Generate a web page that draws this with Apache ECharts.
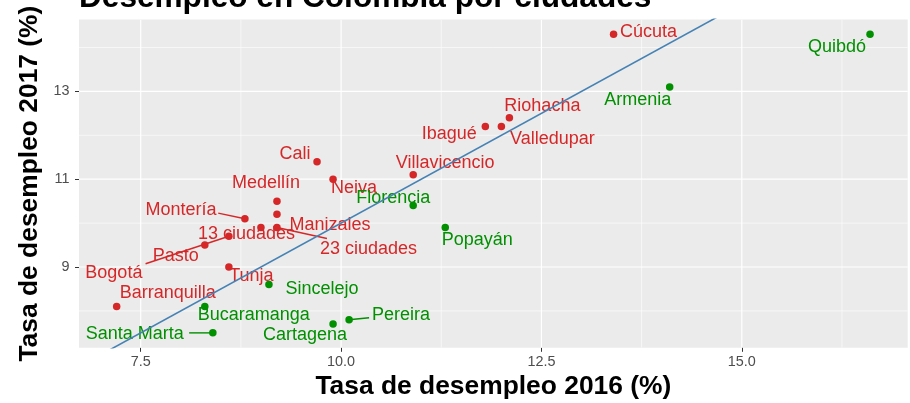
<!DOCTYPE html>
<html><head><meta charset="utf-8">
<script src="https://cdn.jsdelivr.net/npm/echarts@6/dist/echarts.min.js"></script>
<style>html,body{margin:0;padding:0;background:#fff}#c{width:910px;height:403px}</style>
</head><body><div id="c"></div>
<script>
// ---- data ----
const cities = ['Cúcuta','Quibdó','Armenia','Riohacha','Valledupar','Ibagué','Cali','Neiva','Villavicencio','Florencia','Popayán','Medellín','Manizales','Montería','13 ciudades','23 ciudades','Bogotá','Pasto','Tunja','Barranquilla','Sincelejo','Bucaramanga','Santa Marta','Cartagena','Pereira'];
const unemp2016 = [13.4,16.6,14.1,12.1,12.0,11.8,9.7,9.9,10.9,10.9,11.3,9.2,9.2,8.8,9.0,9.2,8.6,8.3,8.6,7.2,9.1,8.3,8.4,9.9,10.1];
const unemp2017 = [14.3,14.3,13.1,12.4,12.2,12.2,11.4,11.0,11.1,10.4,9.9,10.5,10.2,10.1,9.9,9.9,9.7,9.5,9.0,8.1,8.6,8.1,7.5,7.7,7.8];
const xTicks = [7.5,10,12.5,15];
const xMinor = [8.75,11.25,13.75,16.25];
const yTicks = [9,11,13];
const yMinor = [8,10,12,14];
const refLine = [6,16]; // y = x reference line ends

// ---- layout / style (not data) ----
const RED = '#d62728', GREEN = '#009000';
const FONT = '"Liberation Sans", Arial, sans-serif';
// label centre offset from the dot (px) and optional leader segment end (px)
const labelPlacement = {
  'Cúcuta':[35,-2], 'Quibdó':[-33,13], 'Armenia':[-32,13], 'Riohacha':[33,-12],
  'Valledupar':[51,13], 'Ibagué':[-36,8], 'Cali':[-22,-8], 'Neiva':[21,9],
  'Villavicencio':[32,-11.5], 'Florencia':[-20,-8], 'Popayán':[32,13], 'Medellín':[-11,-18],
  'Manizales':[53,10.5], 'Montería':[-64,-9,[-26.7,-5.6]], '13 ciudades':[-14.5,6.5],
  '23 ciudades':[91.5,21.5,[50,11]], 'Bogotá':[-115,37,[-83.3,27.5]], 'Pasto':[-29,11.3],
  'Tunja':[22.5,9.5], 'Barranquilla':[51,-13], 'Sincelejo':[53,4], 'Bucaramanga':[49,8.7],
  'Santa Marta':[-78,1.3,[-23.7,0]], 'Cartagena':[-28,11], 'Pereira':[52,-5,[20,-2]]
};
const colorOf = i => unemp2017[i] > unemp2016[i] ? RED : GREEN;
const pts = cities.map((c,i)=>[unemp2016[i], unemp2017[i]]);

// grid lines: [axis, value, isMajor]
const gridData = [
  ...xMinor.map(v=>['x',v,0]), ...yMinor.map(v=>['y',v,0]),
  ...xTicks.map(v=>['x',v,1]), ...yTicks.map(v=>['y',v,1])
];

const chart = echarts.init(document.getElementById('c'), null, {renderer:'canvas'});
chart.setOption({
  animation:false,
  backgroundColor:'#ffffff',
  graphic:[{type:'text', x:79, y:-1.5, silent:true,
    style:{text:'Desempleo en Colombia por ciudades', font:'bold 31.6px '+FONT, fill:'#000',
      align:'left', verticalAlign:'middle'}}],
  grid:{left:79, right:2.3, top:19.4, bottom:55.2, show:true, backgroundColor:'#ebebeb', borderWidth:0,
    containLabel:false, outerBoundsMode:'none'},
  xAxis:{type:'value', min:6.73, max:17.07,
    name:'Tasa de desempleo 2016 (%)', nameLocation:'middle', nameGap:26,
    nameTextStyle:{fontFamily:FONT, fontSize:26.4, fontWeight:'bold', color:'#000'},
    axisLine:{show:false}, splitLine:{show:false},
    axisTick:{show:true, length:4, customValues:xTicks, lineStyle:{color:'#333', width:1}},
    axisLabel:{customValues:xTicks, margin:7.5, fontFamily:FONT, fontSize:14.4, color:'#4d4d4d',
      formatter:v=>v.toFixed(1)}},
  yAxis:{type:'value', min:7.16, max:14.64,
    name:'Tasa de desempleo 2017 (%)', nameLocation:'middle', nameGap:35,
    nameTextStyle:{fontFamily:FONT, fontSize:26.4, fontWeight:'bold', color:'#000'},
    axisLine:{show:false}, splitLine:{show:false},
    axisTick:{show:true, length:4, customValues:yTicks, lineStyle:{color:'#333', width:1}},
    axisLabel:{customValues:yTicks, margin:9.5, fontFamily:FONT, fontSize:14.4, color:'#4d4d4d',
      formatter:v=>String(v)}},
  series:[
    {type:'custom', z:1, silent:true, clip:true, data:gridData.map((g,i)=>[i]),
      renderItem:(params, api)=>{
        const g = gridData[params.dataIndex];
        const cs = params.coordSys;
        let shape;
        if (g[0]==='x') { const px = api.coord([g[1], 10])[0]; shape={x1:px,y1:cs.y,x2:px,y2:cs.y+cs.height}; }
        else { const py = api.coord([10, g[1]])[1]; shape={x1:cs.x,y1:py,x2:cs.x+cs.width,y2:py}; }
        return {type:'line', shape, style:{stroke:'#ffffff', lineWidth:g[2]?1.2:0.6}};
      }},
    {type:'custom', z:3, clip:false, data:pts,
      renderItem:(params, api)=>{
        const i = params.dataIndex;
        const p = api.coord([api.value(0), api.value(1)]);
        const pl = labelPlacement[cities[i]] || [0,-14];
        const col = colorOf(i);
        const ch = [];
        if (pl[2]) ch.push({type:'line', shape:{x1:p[0], y1:p[1], x2:p[0]+pl[2][0], y2:p[1]+pl[2][1]},
          style:{stroke:col, lineWidth:1.4}});
        ch.push({type:'text', x:p[0]+pl[0], y:p[1]+pl[1],
          style:{text:cities[i], fill:col, font:'18px '+FONT, align:'center', verticalAlign:'middle'}});
        return {type:'group', children:ch};
      }},
    {type:'scatter', z:4, data:pts, symbolSize:7.5,
      itemStyle:{color:p=>colorOf(p.dataIndex), opacity:1}},
    {type:'line', z:5, data:[[refLine[0],refLine[0]],[refLine[1],refLine[1]]], symbol:'none', clip:true,
      lineStyle:{color:'#4682b4', width:1.6}}
  ]
});
</script></body></html>
